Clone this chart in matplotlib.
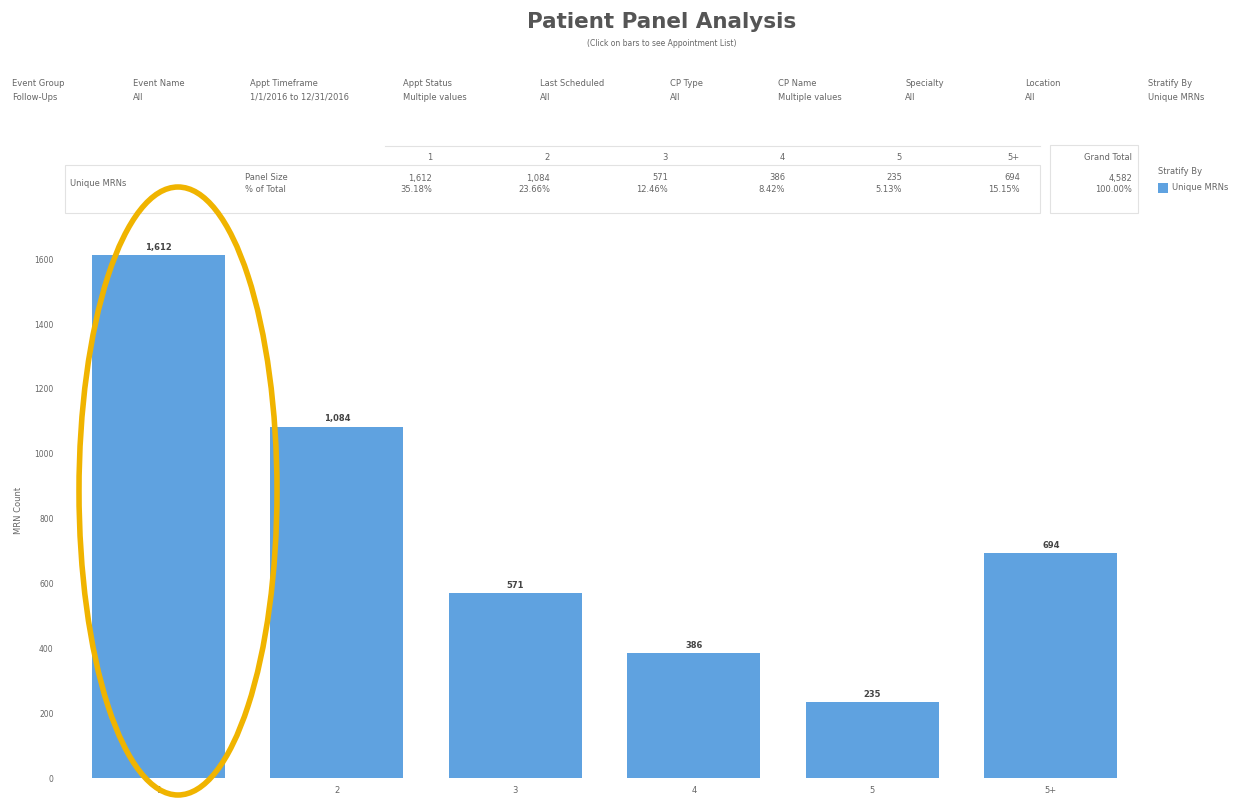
import matplotlib.pyplot as plt
from matplotlib.patches import Ellipse, Rectangle

# data
visits = ["1", "2", "3", "4", "5", "5+"]
mrn_count = [1612, 1084, 571, 386, 235, 694]
y_ticks = [0, 200, 400, 600, 800, 1000, 1200, 1400, 1600]

filter_names = ["Event Group", "Event Name", "Appt Timeframe", "Appt Status", "Last Scheduled",
                "CP Type", "CP Name", "Specialty", "Location", "Stratify By"]
filter_values = ["Follow-Ups", "All", "1/1/2016 to 12/31/2016", "Multiple values", "All",
                 "All", "Multiple values", "All", "All", "Unique MRNs"]

W, H = 1253, 798
bar_color = "#5fa2e0"
grey = "#666666"

fig = plt.figure(figsize=(W / 100, H / 100), dpi=100)
fig.patch.set_facecolor("white")


def px(x, y):
    return x / W, 1 - y / H


# title
fig.text(*px(662, 22), "Patient Panel Analysis", ha="center", va="center",
         fontsize=15.5, fontweight="bold", color="#555555")
fig.text(*px(662, 44), "(Click on bars to see Appointment List)", ha="center", va="center",
         fontsize=5.5, color=grey)

# filter strip
filter_x = [12, 133, 250, 403, 540, 670, 778, 905, 1025, 1148]
for x, name, val in zip(filter_x, filter_names, filter_values):
    fig.text(*px(x, 84), name, ha="left", va="center", fontsize=6, color=grey)
    fig.text(*px(x, 97), val, ha="left", va="center", fontsize=6, color=grey)

# summary table
total = sum(mrn_count)
col_x = [432, 550, 668, 785, 902, 1020]
line_c = "#e2e2e2"
fig.patches.append(Rectangle(px(65, 213), 975 / W, 48 / H, transform=fig.transFigure,
                             fill=False, edgecolor=line_c, lw=0.8))
fig.patches.append(Rectangle(px(1050, 213), 88 / W, 68 / H, transform=fig.transFigure,
                             fill=False, edgecolor=line_c, lw=0.8))
fig.add_artist(plt.Line2D([385 / W, 1040 / W], [1 - 146 / H, 1 - 146 / H],
                          transform=fig.transFigure, color=line_c, lw=0.8))
fig.text(*px(70, 184), "Unique MRNs", ha="left", va="center", fontsize=6, color=grey)
fig.text(*px(245, 178), "Panel Size", ha="left", va="center", fontsize=6, color=grey)
fig.text(*px(245, 190), "% of Total", ha="left", va="center", fontsize=6, color=grey)
for x, lab, v in zip(col_x, visits, mrn_count):
    fig.text(*px(x, 157), lab, ha="right", va="center", fontsize=6, color=grey)
    fig.text(*px(x, 178), f"{v:,}", ha="right", va="center", fontsize=6, color=grey)
    fig.text(*px(x, 190), f"{v / total * 100:.2f}%", ha="right", va="center", fontsize=6, color=grey)
fig.text(*px(1132, 157), "Grand Total", ha="right", va="center", fontsize=6, color=grey)
fig.text(*px(1132, 178), f"{total:,}", ha="right", va="center", fontsize=6, color=grey)
fig.text(*px(1132, 190), "100.00%", ha="right", va="center", fontsize=6, color=grey)

# legend
fig.text(*px(1158, 172), "Stratify By", ha="left", va="center", fontsize=6, color=grey)
fig.patches.append(Rectangle(px(1158, 193), 10 / W, 10 / H, transform=fig.transFigure,
                             facecolor=bar_color, edgecolor="none"))
fig.text(*px(1172, 188), "Unique MRNs", ha="left", va="center", fontsize=6, color=grey)

# bar chart
ax = fig.add_axes([62 / W, 1 - 778 / H, (1140 - 62) / W, (778 - 243) / H])
xs = range(len(visits))
bars = ax.bar(xs, mrn_count, width=0.745, color=bar_color)
for b, v in zip(bars, mrn_count):
    ax.text(b.get_x() + b.get_width() / 2, v + 10, f"{v:,}", ha="center", va="bottom",
            fontsize=6, fontweight="bold", color="#444444")
ax.set_xlim(-0.54, 5.5)
ax.set_ylim(0, 1650)
ax.set_xticks(list(xs))
ax.set_xticklabels(visits, fontsize=6, color=grey)
ax.set_yticks(y_ticks)
ax.set_yticklabels([str(t) for t in y_ticks], fontsize=5.5, color=grey)
ax.tick_params(length=0, pad=6)
ax.set_ylabel("MRN Count", fontsize=6, color=grey, labelpad=8)
for s in ax.spines.values():
    s.set_visible(False)

# highlight ring around the first bar
fig.patches.append(Ellipse(px(178, 491), 198 / W, 608 / H, transform=fig.transFigure,
                           fill=False, edgecolor="#f0b400", lw=4))

fig.savefig("out.png", dpi=100)
